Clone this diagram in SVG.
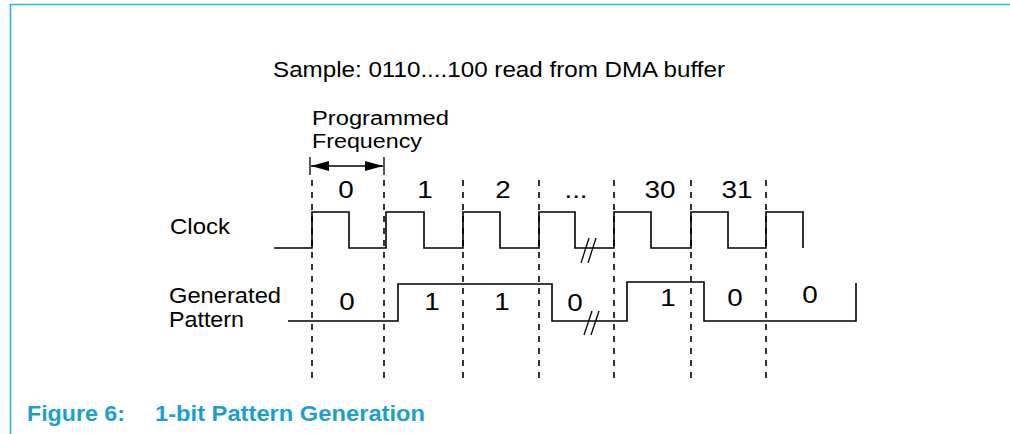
<svg xmlns="http://www.w3.org/2000/svg" width="1010" height="434" viewBox="0 0 1010 434">
<style>
.t{font-family:"Liberation Sans",Arial,sans-serif;font-size:22px;fill:#000}
.s{font-family:"Liberation Sans",Arial,sans-serif;font-size:20px;fill:#000}
.d{font-family:"Liberation Sans",Arial,sans-serif;font-size:24px;fill:#000;text-anchor:middle}
.cap{font-family:"Liberation Sans",Arial,sans-serif;font-size:22px;font-weight:bold;fill:#1b9fd1}
.w{fill:none;stroke:#000;stroke-width:1.6}
.g{fill:none;stroke:#000;stroke-width:1.6;stroke-dasharray:6 6}
.b{fill:none;stroke:#000;stroke-width:1.3}
</style>
<defs>
<marker id="ah" markerUnits="userSpaceOnUse" markerWidth="18" markerHeight="12" refX="18" refY="6" orient="auto-start-reverse">
<polygon points="0,1 18,6 0,11" fill="#000"/>
</marker>
</defs>
<rect width="1010" height="434" fill="#fff"/>
<g id="frame">
<line x1="10" y1="4.5" x2="1010" y2="4.5" stroke="#29b5dd" stroke-width="1.6"/>
<line x1="10.5" y1="4" x2="10.5" y2="434" stroke="#29b5dd" stroke-width="1.6"/>
</g>
<g id="title">
<text class="t" x="273" y="77" textLength="452" lengthAdjust="spacingAndGlyphs">Sample: 0110....100 read from DMA buffer</text>
</g>
<g id="freq-label">
<text class="s" x="312" y="125" textLength="137" lengthAdjust="spacingAndGlyphs">Programmed</text>
<text class="s" x="312" y="148" textLength="110" lengthAdjust="spacingAndGlyphs">Frequency</text>
</g>
<g id="connectors">
<line class="b" x1="310" y1="157" x2="310" y2="175"/>
<line class="b" x1="384" y1="157" x2="384" y2="175"/>
<line class="b" x1="311" y1="166" x2="383" y2="166" marker-start="url(#ah)" marker-end="url(#ah)"/>
</g>
<g id="gridlines">
<line class="g" x1="312" y1="180" x2="312" y2="382"/>
<line class="g" x1="384" y1="180" x2="384" y2="382"/>
<line class="g" x1="463" y1="180" x2="463" y2="382"/>
<line class="g" x1="539" y1="180" x2="539" y2="382"/>
<line class="g" x1="614" y1="180" x2="614" y2="382"/>
<line class="g" x1="691" y1="180" x2="691" y2="382"/>
<line class="g" x1="766" y1="180" x2="766" y2="382"/>
</g>
<g id="clock-labels">
<text class="d" x="346" y="198" textLength="15.5" lengthAdjust="spacingAndGlyphs">0</text>
<text class="d" x="425" y="198" textLength="15.5" lengthAdjust="spacingAndGlyphs">1</text>
<text class="d" x="503" y="198" textLength="15.5" lengthAdjust="spacingAndGlyphs">2</text>
<text class="d" x="576" y="198" textLength="23" lengthAdjust="spacingAndGlyphs">...</text>
<text class="d" x="660" y="198" textLength="31" lengthAdjust="spacingAndGlyphs">30</text>
<text class="d" x="737" y="198" textLength="31" lengthAdjust="spacingAndGlyphs">31</text>
</g>
<g id="clock">
<text class="t" x="170" y="234" textLength="60" lengthAdjust="spacingAndGlyphs">Clock</text>
<path class="w" d="M274,248 H312 V212 H349 V248 H386 V212 H424 V248 H463 V212 H500 V248 H539 V212 H575 V248 H614 V212 H651 V248 H691 V212 H728 V248 H766 V212 H803 V248"/>
<line class="b" x1="581" y1="263" x2="589" y2="238"/>
<line class="b" x1="588" y1="263" x2="596" y2="238"/>
</g>
<g id="pattern">
<text class="t" x="169" y="303" textLength="112" lengthAdjust="spacingAndGlyphs">Generated</text>
<text class="t" x="169" y="327" textLength="75" lengthAdjust="spacingAndGlyphs">Pattern</text>
<path class="w" d="M288,321 H398 V284 H552 V321 H627 V282 H704 V321 H856 V283"/>
<line class="b" x1="584" y1="335" x2="592" y2="311"/>
<line class="b" x1="591" y1="335" x2="599" y2="311"/>
</g>
<g id="pattern-labels">
<text class="d" x="347" y="310" textLength="15.5" lengthAdjust="spacingAndGlyphs">0</text>
<text class="d" x="432" y="310" textLength="15.5" lengthAdjust="spacingAndGlyphs">1</text>
<text class="d" x="502" y="310" textLength="15.5" lengthAdjust="spacingAndGlyphs">1</text>
<text class="d" x="575" y="311" textLength="15.5" lengthAdjust="spacingAndGlyphs">0</text>
<text class="d" x="668" y="306" textLength="15.5" lengthAdjust="spacingAndGlyphs">1</text>
<text class="d" x="735" y="306" textLength="15.5" lengthAdjust="spacingAndGlyphs">0</text>
<text class="d" x="810" y="303" textLength="15.5" lengthAdjust="spacingAndGlyphs">0</text>
</g>
<g id="caption">
<text class="cap" x="27" y="421" textLength="98" lengthAdjust="spacingAndGlyphs">Figure 6:</text>
<text class="cap" x="155" y="421" textLength="270" lengthAdjust="spacingAndGlyphs">1-bit Pattern Generation</text>
</g>
</svg>
